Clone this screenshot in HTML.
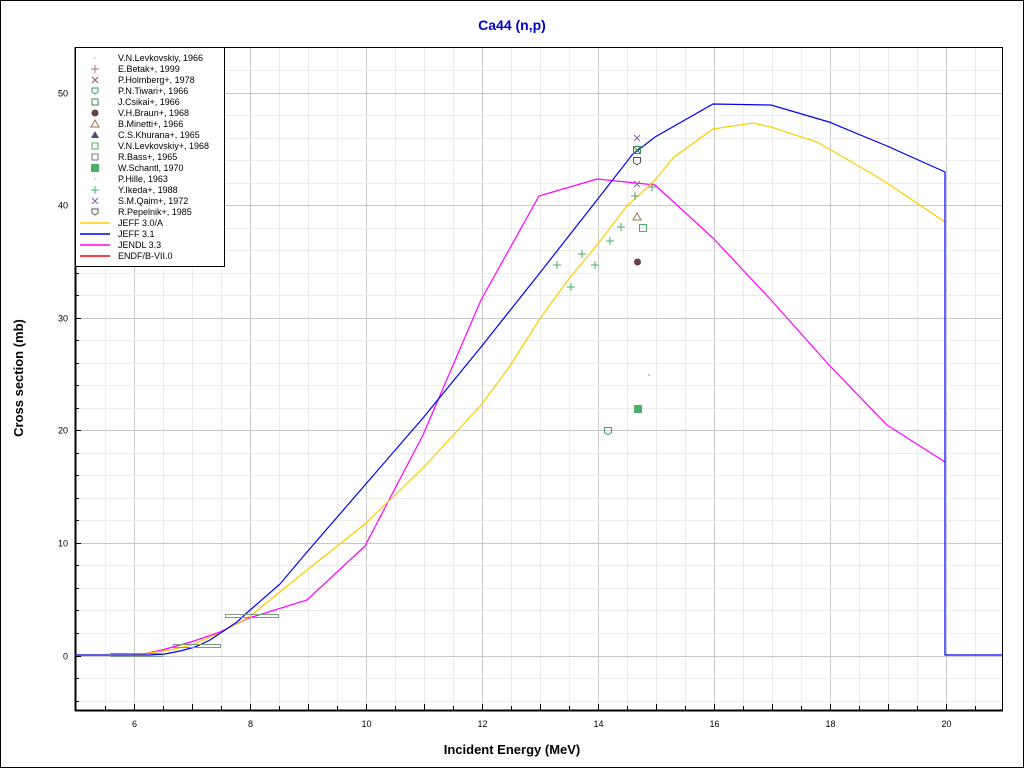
<!DOCTYPE html>
<html><head><meta charset="utf-8"><style>
html,body{margin:0;padding:0;background:#fff}
svg{display:block;font-family:"Liberation Sans",sans-serif}
</style></head><body>
<svg id="s" width="1024" height="768" xmlns="http://www.w3.org/2000/svg">
<rect x="0.5" y="0.5" width="1023" height="767" fill="#fff" stroke="#000"/>
<text x="512" y="30" text-anchor="middle" font-size="14" font-weight="bold" fill="#0000cc">Ca44 (n,p)</text>
<g id="grid"></g>
<rect x="75.5" y="47.5" width="927" height="663" fill="none" stroke="#000"/>
<line x1="75.5" y1="47" x2="75.5" y2="711" stroke="#000" stroke-width="2"/>
<line x1="75" y1="710.5" x2="1003" y2="710.5" stroke="#000" stroke-width="2"/>
<g id="ticks"></g>
<text x="512" y="754" text-anchor="middle" font-size="13" font-weight="bold">Incident Energy (MeV)</text>
<text transform="translate(23,378) rotate(-90)" text-anchor="middle" font-size="13" font-weight="bold">Cross section (mb)</text>
<polyline fill="none" stroke="#ff00ff" stroke-width="1.2" points="139,655 162,650 191,642 220,632 249,618 307,600 365,546 423,435 481,300 539,196 597,179 655,185 713,238 771,300 829,365 887,425 945,462"/>
<polyline fill="none" stroke="#ffcc00" stroke-width="1.2" points="75,655 133,655 150,653 170,650 191,645 220,633 249,617 307,570 365,524 423,468 481,405 510,366 539,320 568,280 597,245 626,207 655,180 674,157 713,129 753,123 771,127 817,142 857,165 887,183 945,222"/>
<polyline fill="none" stroke="#0000ff" stroke-width="1.2" points="75,655 150,655 165,654 180,651 195,647 210,640 225,630 237,622 249,611 280,584 307,552 365,485 423,418 481,347 539,274 597,200 632,155 655,137 713,104 771,105 829,122 887,146 945,172 945,655 1003,655"/>
<g fill="none" stroke="#7a9a82" stroke-width="1">
<rect x="110.5" y="653.5" width="52" height="3"/>
<rect x="173.5" y="644.5" width="47" height="3"/>
<rect x="225.5" y="614.5" width="53" height="3"/>
</g>
<g stroke="#4caf6a" stroke-width="1" id="plus"></g>
<g stroke="#8060a0" stroke-width="1"><path d="M634,135l6,6M640,135l-6,6M634,181l6,6M640,181l-6,6"/></g>
<rect x="633.5" y="146.5" width="7" height="7" fill="none" stroke="#3a8a5a"/>
<path d="M634,147l6,6M640,147l-6,6" stroke="#3a8a5a"/>
<path d="M633.5,157.5h7v5l-3,2h-1l-3,-2z" fill="none" stroke="#555"/>
<path d="M637,213l4,7h-8z" fill="none" stroke="#a07050"/>
<circle cx="637.5" cy="262" r="3.5" fill="#6a4048"/>
<rect x="639.5" y="224.5" width="7" height="7" fill="none" stroke="#4caf6a"/>
<rect x="634" y="405" width="8" height="8" fill="#4caf6a"/>
<path d="M604.5,427.5h7v5l-3,2h-1l-3,-2z" fill="none" stroke="#3a9a7a"/>
<circle cx="649" cy="375" r="0.8" fill="#4caf6a"/>
<rect x="75.5" y="47.5" width="149" height="219" fill="#fff" stroke="#000"/>
<g font-size="9" id="leg"></g>
</svg>
<script>
var ns="http://www.w3.org/2000/svg";
function el(p,t,a,txt){var e=document.createElementNS(ns,t);for(var k in a)e.setAttribute(k,a[k]);if(txt)e.textContent=txt;document.getElementById(p).appendChild(e);return e;}
function X(E){return 75.5+58*(E-5);}function Y(v){return 655.5-11.26*v;}
for(var E=5.5;E<21;E+=0.5){var x=Math.round(X(E))+0.5;var maj=(E%2==0);el('grid','line',{x1:x,y1:48,x2:x,y2:710,stroke:maj?'#c8c8c8':'#ececec'});
el('ticks','line',{x1:x,y1:710,x2:x,y2:E%1==0?704:706,stroke:'#000'});
if(maj)el('ticks','text',{x:x,y:727,'text-anchor':'middle','font-size':'9'},String(E));}
for(var v=-4;v<=54;v+=2){var y=Math.round(Y(v))+0.5;var maj=(v%10==0);el('grid','line',{x1:76,y1:y,x2:1002,y2:y,stroke:maj?'#c8c8c8':'#ececec'});
el('ticks','line',{x1:75,y1:y,x2:maj?81:79,y2:y,stroke:'#000'});
if(maj)el('ticks','text',{x:68,y:y+3,'text-anchor':'end','font-size':'9'},String(v));}
[[557,265],[571,287],[582,254],[595,265],[610,241],[621,227],[635,196],[652,187]].forEach(function(p){el('plus','path',{d:'M'+(p[0]-4)+','+p[1]+'h8M'+p[0]+','+(p[1]-4)+'v8'});});
var L=["V.N.Levkovskiy, 1966","E.Betak+, 1999","P.Holmberg+, 1978","P.N.Tiwari+, 1966","J.Csikai+, 1966","V.H.Braun+, 1968","B.Minetti+, 1966","C.S.Khurana+, 1965","V.N.Levkovskiy+, 1968","R.Bass+, 1965","W.Schantl, 1970","P.Hille, 1963","Y.Ikeda+, 1988","S.M.Qaim+, 1972","R.Pepelnik+, 1985","JEFF 3.0/A","JEFF 3.1","JENDL 3.3","ENDF/B-VII.0"];
var lc=["#ffcc00","#0000ff","#ff00ff","#ff0000"];
L.forEach(function(t,i){var y=58+11*i;el('leg','text',{x:118,y:y+3},t);
if(i>=15){el('leg','line',{x1:80,y1:y,x2:110,y2:y,stroke:lc[i-15],'stroke-width':1.5});return;}
var d={1:['path',{d:'M91,'+y+'h8M95,'+(y-4)+'v8',stroke:'#b07080'}],2:['path',{d:'M92,'+(y-3)+'l6,6M98,'+(y-3)+'l-6,6',stroke:'#806050'}],12:['path',{d:'M91,'+y+'h8M95,'+(y-4)+'v8',stroke:'#4caf6a'}],13:['path',{d:'M92,'+(y-3)+'l6,6M98,'+(y-3)+'l-6,6',stroke:'#8060a0'}],
3:['path',{d:'M92,'+(y-3)+'h6v4l-3,2l-3,-2z',fill:'none',stroke:'#3a9a7a'}],14:['path',{d:'M92,'+(y-3)+'h6v4l-3,2l-3,-2z',fill:'none',stroke:'#555'}],
4:['rect',{x:92,y:y-3,width:6,height:6,fill:'none',stroke:'#3a8a5a'}],5:['circle',{cx:95,cy:y,r:3.5,fill:'#6a4048'}],6:['path',{d:'M95,'+(y-4)+'l4,7h-8z',fill:'none',stroke:'#a07050'}],7:['path',{d:'M95,'+(y-4)+'l4,7h-8z',fill:'#504878'}],
8:['rect',{x:92,y:y-3,width:6,height:6,fill:'none',stroke:'#4caf6a'}],9:['rect',{x:92,y:y-3,width:6,height:6,fill:'none',stroke:'#777'}],10:['rect',{x:91,y:y-4,width:8,height:8,fill:'#4caf6a'}],0:['circle',{cx:95,cy:y,r:0.6,fill:'#888'}],11:['circle',{cx:95,cy:y,r:0.6,fill:'#888'}]}[i];
if(d)el('leg',d[0],d[1]);});
</script>
</body></html>
